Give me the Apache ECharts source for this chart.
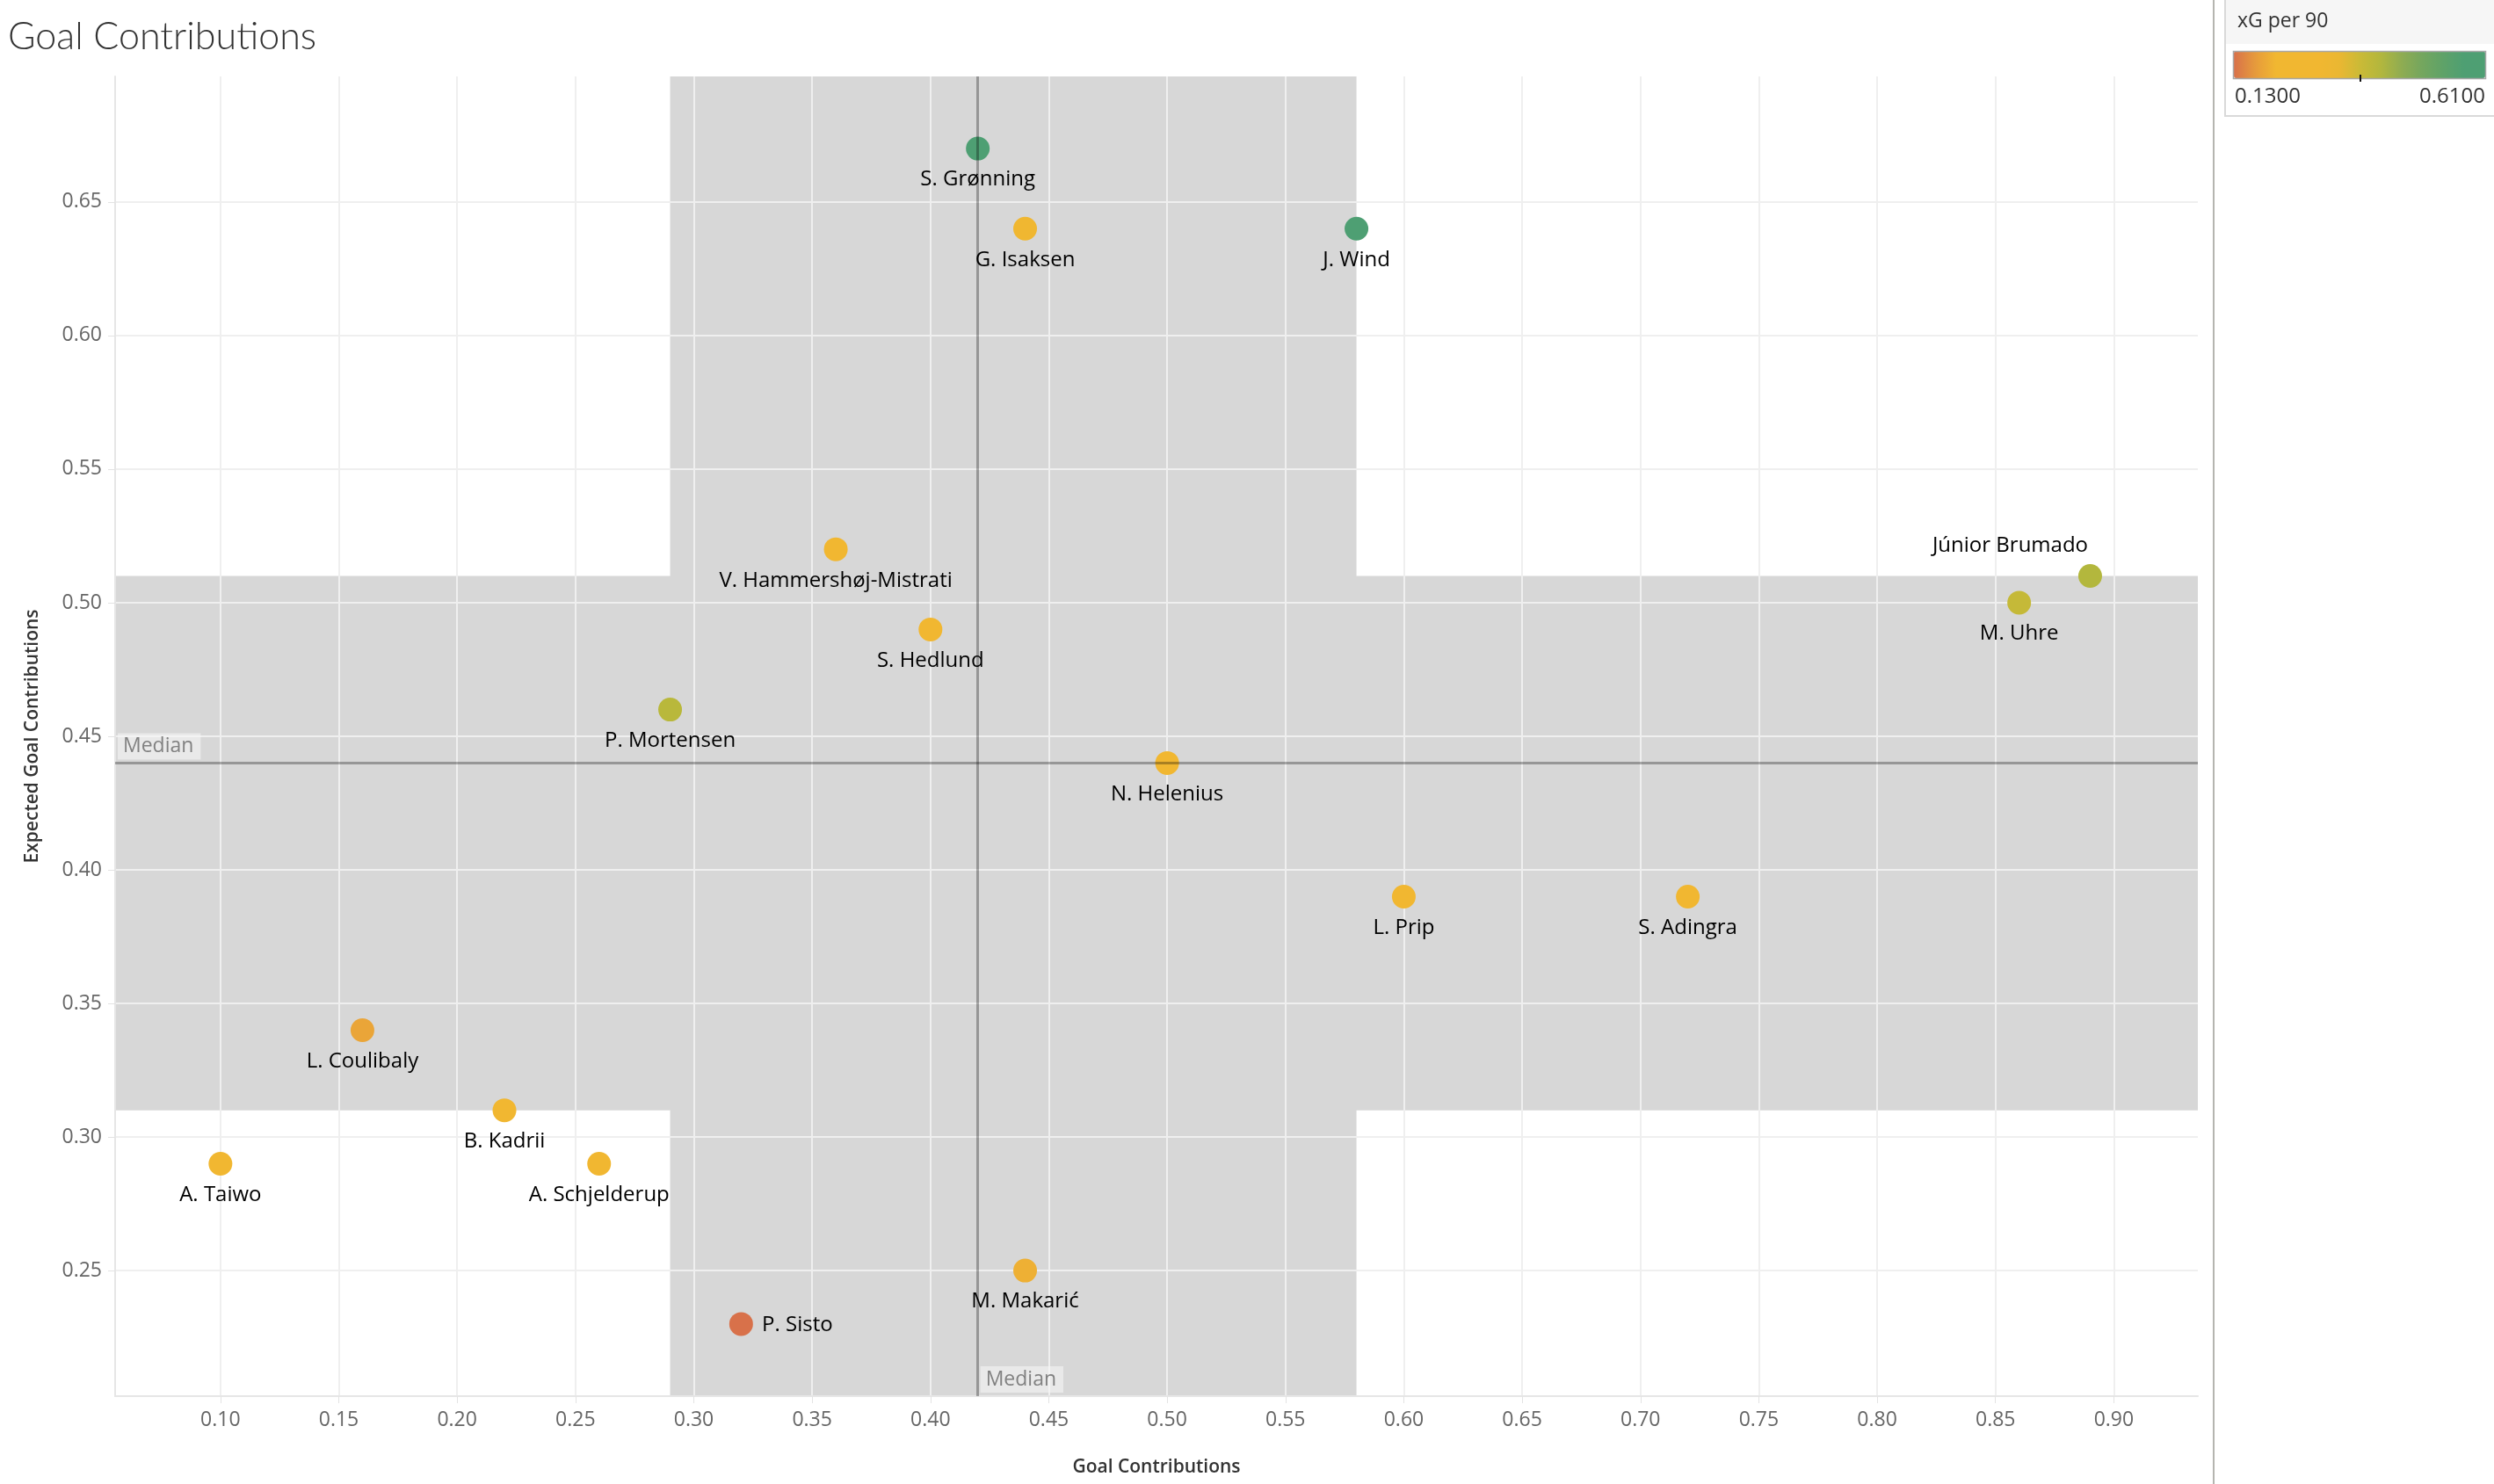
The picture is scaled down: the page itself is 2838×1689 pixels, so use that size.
<!DOCTYPE html>
<html><head><meta charset="utf-8">
<script src="https://cdn.jsdelivr.net/npm/echarts@6/dist/echarts.min.js"></script>
<style>html,body{margin:0;padding:0;background:#fff}#c{width:2838px;height:1689px}</style>
</head><body><div id="c"></div>
<script>
// ---- data ----
const players = ['S. Grønning','G. Isaksen','J. Wind','V. Hammershøj-Mistrati','S. Hedlund','P. Mortensen','N. Helenius','Júnior Brumado','M. Uhre','L. Prip','S. Adingra','L. Coulibaly','B. Kadrii','A. Taiwo','A. Schjelderup','M. Makarić','P. Sisto'];
const goalContributions = [0.42,0.44,0.58,0.36,0.40,0.29,0.50,0.89,0.86,0.60,0.72,0.16,0.22,0.10,0.26,0.44,0.32];
const expectedGoalContributions = [0.67,0.64,0.64,0.52,0.49,0.46,0.44,0.51,0.50,0.39,0.39,0.34,0.31,0.29,0.29,0.25,0.23];
const xgPer90 = [0.61,0.30,0.58,0.28,0.27,0.40,0.25,0.41,0.38,0.24,0.26,0.185,0.22,0.21,0.23,0.20,0.13];
const medianX = 0.42, medianY = 0.44;
const bandX = [0.29, 0.58];
const bandY = [0.31, 0.51];
const xRange = [0.0555, 0.9355];
const yRange = [0.203, 0.697];
const colorRange = [0.13, 0.61];
const colorStops = ['#d8714a','#e69a3c','#f1b731','#f1b731','#f1b731','#ebb732','#cbba36','#b3b73d','#8fac52','#74a65e','#5ea268','#4e9f73','#4e9f73'];

// label placement overrides (style only)
const labelShift = {
  'Júnior Brumado': {dx: -91, dy: -70},
  'P. Sisto': {dx: 64, dy: -34}
};

const FONT = '"Open Sans", "Noto Sans", sans-serif';
const pts = players.map((n, i) => ({name: n, value: [goalContributions[i], expectedGoalContributions[i], xgPer90[i]]}));

const chart = echarts.init(document.getElementById('c'), null, {renderer: 'canvas'});
const option = {
  backgroundColor: '#ffffff',
  animation: false,
  title: {
    text: 'Goal Contributions', left: 4, top: 16,
    textStyle: {fontFamily: 'Lato, "Open Sans", sans-serif', fontWeight: 300, fontSize: 43, color: '#333333'}
  },
  grid: {left: 131, right: 337, top: 87, bottom: 100, containLabel: false},
  xAxis: {
    type: 'value', min: xRange[0], max: xRange[1], splitNumber: 18, z: 2,
    name: 'Goal Contributions', nameLocation: 'middle', nameGap: 71,
    nameTextStyle: {fontFamily: FONT, fontWeight: 600, fontSize: 21, color: '#333333'},
    axisLine: {show: true, lineStyle: {color: '#e6e6e6', width: 2}},
    axisTick: {show: true, length: 8, lineStyle: {color: '#e3e3e3', width: 1}},
    axisLabel: {show: true, margin: 16, fontFamily: FONT, fontSize: 23, color: '#666666', showMinLabel: false, showMaxLabel: false, formatter: v => v.toFixed(2)},
    splitLine: {show: true, showMinLine: false, showMaxLine: false, lineStyle: {color: '#efefef', width: 2}}
  },
  yAxis: {
    type: 'value', min: yRange[0], max: yRange[1], splitNumber: 10, z: 2,
    name: 'Expected Goal Contributions', nameLocation: 'middle', nameGap: 83, nameRotate: 90,
    nameTextStyle: {fontFamily: FONT, fontWeight: 600, fontSize: 21, color: '#333333'},
    axisLine: {show: true, lineStyle: {color: '#e6e6e6', width: 2}},
    axisTick: {show: true, length: 8, lineStyle: {color: '#e3e3e3', width: 1}},
    axisLabel: {show: true, margin: 15, fontFamily: FONT, fontSize: 23, color: '#666666', showMinLabel: false, showMaxLabel: false, formatter: v => v.toFixed(2)},
    splitLine: {show: true, showMinLine: false, showMaxLine: false, lineStyle: {color: '#efefef', width: 2}}
  },
  visualMap: {
    type: 'continuous', min: colorRange[0], max: colorRange[1], dimension: 2, seriesIndex: 1,
    orient: 'horizontal', left: 2542, top: 58, itemWidth: 31, itemHeight: 286,
    calculable: false, padding: 0, text: null, showLabel: false, hoverLink: false, z: 20,
    inRange: {color: colorStops}
  },
  series: [
    {
      type: 'scatter', name: 'bands', data: [], z: 1, silent: true,
      markArea: {
        silent: true,
        itemStyle: {color: '#d7d7d7', opacity: 1},
        data: [
          [{xAxis: bandX[0], yAxis: yRange[0]}, {xAxis: bandX[1], yAxis: yRange[1]}],
          [{xAxis: xRange[0], yAxis: bandY[0]}, {xAxis: xRange[1], yAxis: bandY[1]}]
        ]
      }
    },
    {
      type: 'scatter', name: 'players', z: 4,
      symbolSize: 27,
      itemStyle: {opacity: 1},
      data: pts,
      label: {
        show: true, position: 'bottom', distance: 10,
        formatter: p => p.name,
        fontFamily: FONT, fontSize: 24, color: '#000000'
      },
      labelLayout: function (params) {
        const s = labelShift[players[params.dataIndex]];
        return s ? {dx: s.dx, dy: s.dy} : {};
      }
    },
    {
      type: 'scatter', name: 'median', data: [], z: 5, silent: true,
      markLine: {
        silent: true, symbol: 'none',
        lineStyle: {color: 'rgba(0,0,0,0.3)', width: 3, type: 'solid'},
        label: {show: false},
        data: [{xAxis: medianX}, {yAxis: medianY}]
      }
    },
    {
      type: 'scatter', name: 'medianLabels', z: 6, silent: true, symbolSize: 0,
      data: [[xRange[0], medianY], [medianX, yRange[0]]],
      label: {
        show: true, position: [3, -4], align: 'left', verticalAlign: 'bottom',
        formatter: 'Median', fontFamily: FONT, fontSize: 23, color: '#666666',
        backgroundColor: 'rgba(246,246,246,0.72)', padding: [4, 8, 3, 6]
      }
    }
  ],
  graphic: [
    {type: 'line', shape: {x1: 2519, y1: 0, x2: 2519, y2: 1689}, style: {stroke: '#b5b5b0', lineWidth: 2}, z: 1},
    {type: 'rect', shape: {x: 2532, y: -2, width: 320, height: 134}, style: {fill: '#ffffff', stroke: '#d9d9d9', lineWidth: 2}, z: 1},
    {type: 'rect', shape: {x: 2533, y: 0, width: 310, height: 50}, style: {fill: '#f6f6f6'}, z: 2},
    {type: 'text', x: 2546, y: 24, style: {text: 'xG per 90', fontFamily: FONT, fontSize: 23, fill: '#333333', textVerticalAlign: 'middle'}, z: 30},
    {type: 'text', x: 2543, y: 110, style: {text: colorRange[0].toFixed(4), fontFamily: FONT, fontSize: 24, fill: '#333333', textVerticalAlign: 'middle'}, z: 30},
    {type: 'text', x: 2828, y: 110, style: {text: colorRange[1].toFixed(4), fontFamily: FONT, fontSize: 24, fill: '#333333', textAlign: 'right', textVerticalAlign: 'middle'}, z: 30},
    {type: 'rect', shape: {x: 2541.5, y: 58.5, width: 287, height: 31}, style: {fill: 'none', stroke: '#a8a8a8', lineWidth: 1.5}, z: 200},
    {type: 'line', shape: {x1: 2686, y1: 85, x2: 2686, y2: 93}, style: {stroke: '#111', lineWidth: 2}, z: 200}
  ]
};
chart.setOption(option);
</script>
</body></html>
